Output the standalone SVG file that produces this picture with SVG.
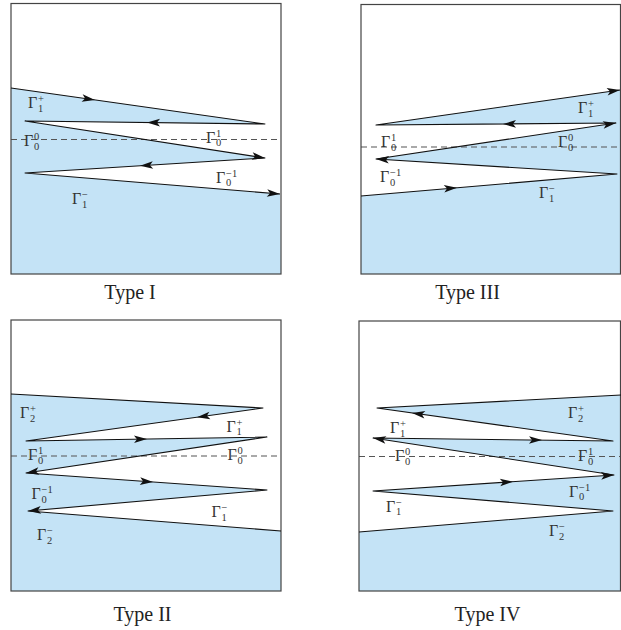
<svg xmlns="http://www.w3.org/2000/svg" xmlns:xlink="http://www.w3.org/1999/xlink" width="621" height="630" viewBox="0 0 621 630">
<style>
.frame{fill:none;stroke:#444;stroke-width:1.2}
.fill{fill:#c4e3f6;stroke:none}
.dash{stroke:#555;stroke-width:1.2;stroke-dasharray:6 4;fill:none}
.curve{fill:none;stroke:#111;stroke-width:1.1;stroke-linejoin:round}
.g{font-family:"Liberation Serif","DejaVu Serif",serif;font-size:16px;fill:#333}
.s{font-size:10.5px}
.cap{font-family:"Liberation Serif","DejaVu Serif",serif;font-size:20px;fill:#222;text-anchor:middle}
</style>
<defs>
<path id="ah" d="M0,0 L-13,-3.8 L-10,0 L-13,3.8 Z" fill="#111"/>
</defs>
<rect width="621" height="630" fill="#fff"/>

<g id="type-I">
<polygon class="fill" points="11,88 265,124 25,121 265,158 25,173 280,194 281,274 11,274"/>
<line class="dash" x1="11" y1="139.5" x2="281" y2="139.5"/>
<rect class="frame" x="11" y="3.5" width="270" height="270.5"/>
<path class="curve" d="M11,88 L265,124 L25,121 L265,158 L25,173 L280,194"/>
<use xlink:href="#ah" href="#ah" transform="translate(95,99.9) rotate(8.07)"/>
<use xlink:href="#ah" href="#ah" transform="translate(147,122.5) rotate(180.7)"/>
<use xlink:href="#ah" href="#ah" transform="translate(265,158) rotate(8.76)"/>
<use xlink:href="#ah" href="#ah" transform="translate(140,165.8) rotate(176.4)"/>
<use xlink:href="#ah" href="#ah" transform="translate(280,194) rotate(4.7)"/>
<text class="g" x="28" y="108">Γ<tspan class="s" x="38" y="102">+</tspan><tspan class="s" x="38" y="111.5">1</tspan></text>
<text class="g" x="206" y="142.5">Γ<tspan class="s" x="216" y="136.5">1</tspan><tspan class="s" x="216" y="146">0</tspan></text>
<text class="g" x="24" y="146">Γ<tspan class="s" x="34" y="140">0</tspan><tspan class="s" x="34" y="149.5">0</tspan></text>
<text class="g" x="216" y="182.5">Γ<tspan class="s" x="226" y="176.5">−1</tspan><tspan class="s" x="226" y="186">0</tspan></text>
<text class="g" x="72" y="204">Γ<tspan class="s" x="82" y="198">−</tspan><tspan class="s" x="82" y="207.5">1</tspan></text>
<text class="cap" x="130" y="299">Type I</text>
</g>

<g id="type-III">
<polygon class="fill" points="361,196 617,174 376,159 616,123 376,125 620.5,90 620.5,274 361,274"/>
<line class="dash" x1="361" y1="147" x2="621" y2="147"/>
<rect class="frame" x="361" y="4.5" width="259.5" height="269.5"/>
<path class="curve" d="M361,196 L617,174 L376,159 L616,123 L376,125 L620,90"/>
<use xlink:href="#ah" href="#ah" transform="translate(457,187.7) rotate(-4.9)"/>
<use xlink:href="#ah" href="#ah" transform="translate(376,159) rotate(183.6)"/>
<use xlink:href="#ah" href="#ah" transform="translate(616,123) rotate(-8.5)"/>
<use xlink:href="#ah" href="#ah" transform="translate(503,124) rotate(179.5)"/>
<use xlink:href="#ah" href="#ah" transform="translate(620,90) rotate(-8.2)"/>
<text class="g" x="578" y="113">Γ<tspan class="s" x="588" y="107">+</tspan><tspan class="s" x="588" y="116.5">1</tspan></text>
<text class="g" x="558" y="147">Γ<tspan class="s" x="568" y="141">0</tspan><tspan class="s" x="568" y="150.5">0</tspan></text>
<text class="g" x="381" y="147">Γ<tspan class="s" x="391" y="141">1</tspan><tspan class="s" x="391" y="150.5">0</tspan></text>
<text class="g" x="380" y="182">Γ<tspan class="s" x="390" y="176">−1</tspan><tspan class="s" x="390" y="185.5">0</tspan></text>
<text class="g" x="539" y="198">Γ<tspan class="s" x="549" y="192">−</tspan><tspan class="s" x="549" y="201.5">1</tspan></text>
<text class="cap" x="467.5" y="299">Type III</text>
</g>

<g id="type-II">
<polygon class="fill" points="11,394 263,408 26,441 267,437 26,473 267,490 28,511 281,531 281,591 11,591"/>
<line class="dash" x1="11" y1="456" x2="281" y2="456"/>
<rect class="frame" x="11" y="320" width="270" height="271"/>
<path class="curve" d="M11,394 L263,408 L26,441 L267,437 L26,473 L267,490 L28,511 L281,531"/>
<use xlink:href="#ah" href="#ah" transform="translate(197,417.2) rotate(172.1)"/>
<use xlink:href="#ah" href="#ah" transform="translate(147,439) rotate(-0.95)"/>
<use xlink:href="#ah" href="#ah" transform="translate(26,473) rotate(171.5)"/>
<use xlink:href="#ah" href="#ah" transform="translate(153,482) rotate(4)"/>
<use xlink:href="#ah" href="#ah" transform="translate(28,511) rotate(175)"/>
<text class="g" x="20" y="418">Γ<tspan class="s" x="30" y="412">+</tspan><tspan class="s" x="30" y="421.5">2</tspan></text>
<text class="g" x="226.5" y="431.5">Γ<tspan class="s" x="236.5" y="425.5">+</tspan><tspan class="s" x="236.5" y="435">1</tspan></text>
<text class="g" x="28" y="460">Γ<tspan class="s" x="38" y="454">1</tspan><tspan class="s" x="38" y="463.5">0</tspan></text>
<text class="g" x="227.5" y="460">Γ<tspan class="s" x="237.5" y="454">0</tspan><tspan class="s" x="237.5" y="463.5">0</tspan></text>
<text class="g" x="31.5" y="499">Γ<tspan class="s" x="41.5" y="493">−1</tspan><tspan class="s" x="41.5" y="502.5">0</tspan></text>
<text class="g" x="211.5" y="517">Γ<tspan class="s" x="221.5" y="511">−</tspan><tspan class="s" x="221.5" y="520.5">1</tspan></text>
<text class="g" x="37" y="540">Γ<tspan class="s" x="47" y="534">−</tspan><tspan class="s" x="47" y="543.5">2</tspan></text>
<text class="cap" x="142.5" y="621">Type II</text>
</g>

<g id="type-IV">
<polygon class="fill" points="359,532 613,511 373,491 614,475 373,438 613,441 377,408 620.5,395 620.5,591 359,591"/>
<line class="dash" x1="359" y1="456.5" x2="621" y2="456.5"/>
<rect class="frame" x="359" y="321" width="261.5" height="270"/>
<path class="curve" d="M359,532 L613,511 L373,491 L614,475 L373,438 L613,441 L377,408 L621,395"/>
<use xlink:href="#ah" href="#ah" transform="translate(513,481.7) rotate(-3.8)"/>
<use xlink:href="#ah" href="#ah" transform="translate(614,475) rotate(-3.8)"/>
<use xlink:href="#ah" href="#ah" transform="translate(373,438) rotate(188.7)"/>
<use xlink:href="#ah" href="#ah" transform="translate(542,440.1) rotate(0.7)"/>
<use xlink:href="#ah" href="#ah" transform="translate(412,412.9) rotate(188)"/>
<text class="g" x="568" y="418">Γ<tspan class="s" x="578" y="412">+</tspan><tspan class="s" x="578" y="421.5">2</tspan></text>
<text class="g" x="390" y="433">Γ<tspan class="s" x="400" y="427">+</tspan><tspan class="s" x="400" y="436.5">1</tspan></text>
<text class="g" x="395" y="461">Γ<tspan class="s" x="405" y="455">0</tspan><tspan class="s" x="405" y="464.5">0</tspan></text>
<text class="g" x="578" y="461">Γ<tspan class="s" x="588" y="455">1</tspan><tspan class="s" x="588" y="464.5">0</tspan></text>
<text class="g" x="569" y="496.5">Γ<tspan class="s" x="579" y="490.5">−1</tspan><tspan class="s" x="579" y="500">0</tspan></text>
<text class="g" x="386" y="511.5">Γ<tspan class="s" x="396" y="505.5">−</tspan><tspan class="s" x="396" y="515">1</tspan></text>
<text class="g" x="549" y="536">Γ<tspan class="s" x="559" y="530">−</tspan><tspan class="s" x="559" y="539.5">2</tspan></text>
<text class="cap" x="487.5" y="621">Type IV</text>
</g>
</svg>
